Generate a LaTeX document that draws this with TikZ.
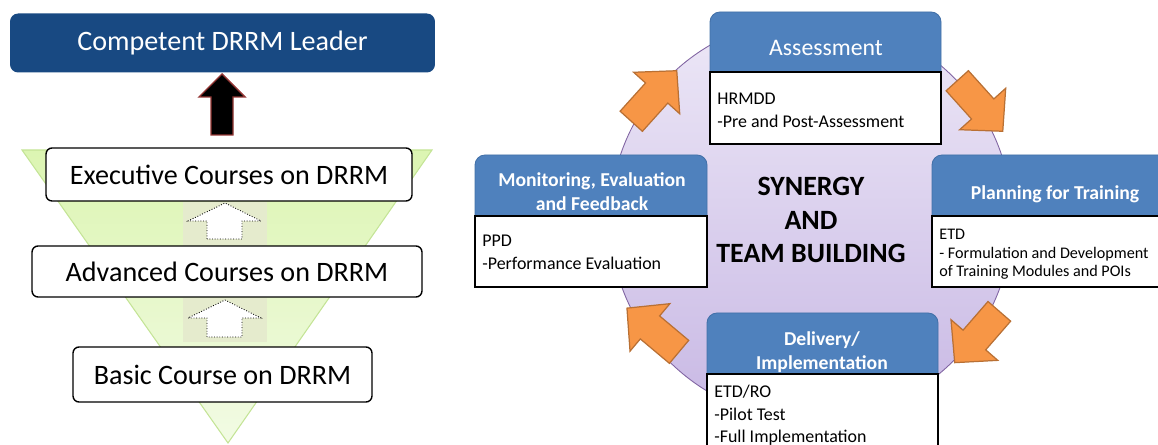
\documentclass[tikz,border=0pt]{standalone}
\usepackage{fontspec}
\setmainfont{Carlito}
\definecolor{leaderblue}{RGB}{24,73,130}
\definecolor{hdrblue}{RGB}{79,129,189}
\definecolor{hdrline}{RGB}{66,112,168}
\definecolor{arroworange}{RGB}{247,150,70}
\definecolor{arrowline}{RGB}{185,112,52}
\definecolor{ringline}{RGB}{128,100,162}
\definecolor{ringtop}{RGB}{237,232,247}
\definecolor{ringbot}{RGB}{200,184,228}
\definecolor{tritop}{RGB}{220,245,178}
\definecolor{tribot}{RGB}{242,251,228}
\definecolor{triline}{RGB}{196,228,150}
\definecolor{padgreen}{RGB}{229,235,205}
\definecolor{darkred}{RGB}{148,54,52}
\begin{document}
\begin{tikzpicture}[x=0.02cm, y=-0.02cm,
    coursebox/.style={draw=black, line width=0.8pt, fill=white, rounded corners=0.12cm,
        font=\fontsize{16}{19}\selectfont, inner sep=0pt},
    hdrtext/.style={text=white, font=\fontsize{11.2}{13.4}\selectfont\bfseries, align=center},
    bodytext/.style={font=\fontsize{10.2}{12.7}\selectfont, align=left, anchor=north west, inner sep=0pt},
    hdrfill/.style={fill=hdrblue, draw=hdrline, line width=0.5pt, rounded corners=0.2cm},
    bodybox/.style={fill=white, draw=black, line width=0.8pt},
    whitearrow/.style={fill=white, draw=black, densely dotted, line width=0.5pt},
    orangearrow/.style={fill=arroworange, draw=arrowline, line width=0.7pt, line join=miter}]
        \useasboundingbox (0,0) rectangle (1158,445);
        \clip (0,0) rectangle (1158,445);

            % left part: course ladder
            \coordinate (TL) at (22,150);
            \coordinate (TR) at (432,150);
            \coordinate (TB) at (228,443);
      \shade [top color=tritop, bottom color=tribot] (TL) -- (TR) -- (TB) -- cycle;
      \draw [triline, line width=0.6pt] (TL) -- (TR) -- (TB) -- cycle;

      \fill [padgreen] (183,202) rectangle (267,246);
      \fill [padgreen] (183,298) rectangle (267,342);
      \draw [whitearrow] (207,239) -- (207,221) -- (188,221) -- (225,203) -- (261,221) -- (242,221) -- (242,239) -- cycle;
      \draw [whitearrow] (207,337) -- (207,318) -- (188,318) -- (225,300) -- (261,318) -- (242,318) -- (242,337) -- cycle;

      \node [coursebox, minimum width=7.32cm, minimum height=1.06cm] (exec) at (229,174.5) {Executive Courses on DRRM};
      \node [coursebox, minimum width=7.8cm, minimum height=1.02cm] (adv) at (227,271.5) {Advanced Courses on DRRM};
      \node [coursebox, minimum width=5.98cm, minimum height=1.1cm] (basic) at (222.5,374.5) {Basic Course on DRRM};

      \draw [fill=black, draw=darkred, line width=0.8pt] (211,135) -- (211,97) -- (199,97) -- (222,74) -- (245,97) -- (233,97) -- (233,135) -- cycle;
      \node [fill=leaderblue, rounded corners=0.16cm, minimum width=8.5cm, minimum height=1.18cm, inner sep=0pt,
             text=white, font=\fontsize{16}{19}\selectfont] (leader) at (222.5,43) {Competent DRRM Leader};

            % right part: training cycle
            \coordinate (C) at (811,219);
      \shade [top color=ringtop, bottom color=ringbot] (C) circle (201);
      \draw [ringline, line width=0.5pt] (C) circle (201);

      \foreach \cx/\cy/\ang in {654/96/48, 980/106/-48, 977/337/-131, 653/330/140}
        \draw [orangearrow, shift={(\cx,\cy)}, rotate=\ang]
            (-34,-15) -- (4,-15) -- (4,-31) -- (34,0) -- (4,31) -- (4,15) -- (-34,15) -- cycle;

      \node [font=\fontsize{15.9}{19}\selectfont\bfseries, align=center] (synergy) at (811,220) {SYNERGY\\AND\\TEAM BUILDING};

      \fill [hdrfill] (710,12) rectangle (941,90);
      \draw [bodybox] (710,72) rectangle (941,144);
      \node [text=white, font=\fontsize{13.5}{16}\selectfont] (assessHead) at (826,47.5) {Assessment};
      \node [bodytext] (assessBody) at (717,93) {HRMDD\\-Pre and Post-Assessment};

      \fill [hdrfill] (932,155) rectangle (1175,235);
      \draw [bodybox] (932,216) rectangle (1175,287);
      \node [hdrtext] (planHead) at (1055,194) {Planning for Training};
      \node [bodytext, font=\fontsize{9.2}{10.5}\selectfont] (planBody) at (939,229) {ETD\\- Formulation and Development\\of Training Modules and POIs};

      \fill [hdrfill] (707,313) rectangle (938,390);
      \draw [bodybox] (707,374) rectangle (938,470);
      \node [hdrtext] (deliveryHead) at (822,352) {Delivery/\\Implementation};
      \node [bodytext] (deliveryBody) at (714,385) {ETD/RO\\-Pilot Test\\-Full Implementation};

      \fill [hdrfill] (475,155) rectangle (707,235);
      \draw [bodybox] (475,216) rectangle (707,287);
      \node [hdrtext] (monitorHead) at (592,191.5) {Monitoring, Evaluation\\and Feedback};
      \node [bodytext] (monitorBody) at (482,235) {PPD\\-Performance Evaluation};

      \end{tikzpicture}
\end{document}
